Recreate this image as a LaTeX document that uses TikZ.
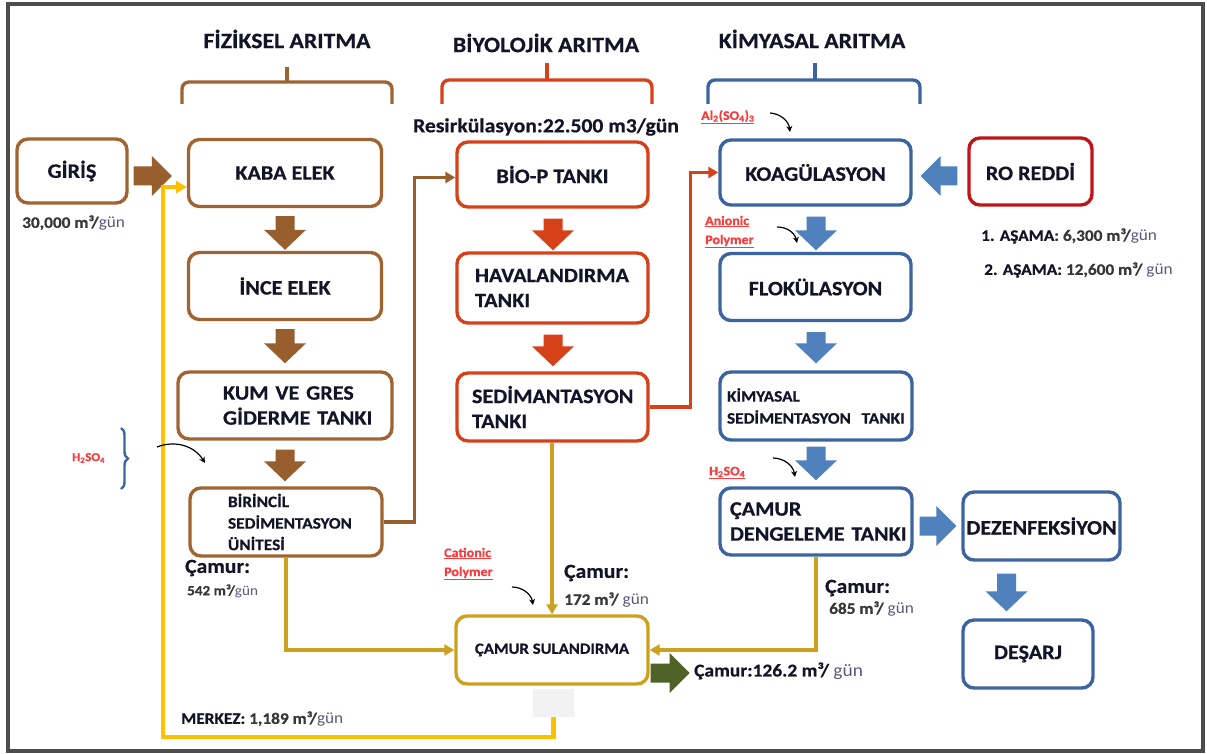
\documentclass[tikz,border=0pt]{standalone}
\usepackage{fontspec}
\setmainfont{Carlito}[FakeStretch=1.08, BoldFeatures={FakeBold=0.6}]
\usetikzlibrary{arrows.meta,calc,decorations.pathreplacing}
\definecolor{txt}{RGB}{20,20,40}
\definecolor{dgray}{RGB}{55,55,55}
\definecolor{gunc}{RGB}{95,85,125}
\definecolor{brownA}{RGB}{150,95,45}
\definecolor{brownB}{RGB}{160,100,50}
\definecolor{redA}{RGB}{215,65,25}
\definecolor{blueA}{RGB}{79,129,189}
\definecolor{blueB}{RGB}{60,100,160}
\definecolor{roR}{RGB}{192,20,25}
\definecolor{goldA}{RGB}{205,160,30}
\definecolor{yellowA}{RGB}{255,192,0}
\definecolor{greenA}{RGB}{79,98,40}
\definecolor{lblred}{RGB}{250,60,60}
\newcommand\fs[2]{\fontsize{#1}{#2}\selectfont}
\newcommand\gn{{\mdseries\color{gunc}gün}}
\newcommand\BDown[3]{\fill[#3] let \p1=(#1),\p2=(#2) in (\x1-9.5pt,\y1) -- (\x1+9.5pt,\y1) -- (\x1+9.5pt,\y2+20pt) -- (\x1+21pt,\y2+20pt) -- (\x1,\y2) -- (\x1-21pt,\y2+20pt) -- (\x1-9.5pt,\y2+20pt) -- cycle;}
\newcommand\BRight[3]{\fill[#3] let \p1=(#1),\p2=(#2) in (\x1,\y1+9.5pt) -- (\x2-20pt,\y1+9.5pt) -- (\x2-20pt,\y1+20pt) -- (\x2,\y1) -- (\x2-20pt,\y1-20pt) -- (\x2-20pt,\y1-9.5pt) -- (\x1,\y1-9.5pt) -- cycle;}
\newcommand\BLeft[3]{\fill[#3] let \p1=(#1),\p2=(#2) in (\x1,\y1+9.5pt) -- (\x2+20pt,\y1+9.5pt) -- (\x2+20pt,\y1+20pt) -- (\x2,\y1) -- (\x2+20pt,\y1-20pt) -- (\x2+20pt,\y1-9.5pt) -- (\x1,\y1-9.5pt) -- cycle;}
\begin{document}
\begin{tikzpicture}[x=1pt,y=-1pt,
  every node/.style={text=txt},
  box/.style={draw, rounded corners=11pt, line width=3.4pt, fill=white, align=center, inner sep=0pt, font=\bfseries\fs{20.5}{25}},
  lbox/.style n args={2}{box, align=left, text width=#1, inner xsep=#2},
  conn/.style={line width=3.2pt, -{Triangle[length=10pt,width=11pt]}},
  curv/.style={line width=1.2pt, black, -{Stealth[length=6pt,width=6pt]}},
  head/.style={font=\bfseries\fs{22}{26}},
  lab/.style={font=\bfseries\fs{16}{20}, text=dgray, anchor=west, inner sep=0pt},
  redlab/.style={font=\bfseries\fs{13}{19}, text=lblred, anchor=west, inner sep=0pt, align=left},
  brc/.style={line width=3.4pt, rounded corners=7pt}
]
\useasboundingbox (0,0) rectangle (1207,754);
\fill[white] (0,0) rectangle (1207,754);
\draw[line width=3.5pt, black!70] (8,4) rectangle (1203,751);

% headings and braces
\node[head] (hfiz) at (287,39) {FİZİKSEL ARITMA};
\node[head] (hbio) at (546,43) {BİYOLOJİK ARITMA};
\node[head] (hkim) at (812,39) {KİMYASAL ARITMA};
\draw[brc, brownB] (182,104) -- (182,82) -- (392,82) -- (392,104);
\draw[line width=3.4pt, brownB] (287,82) -- (287,67);
\draw[brc, redA] (442,104) -- (442,80) -- (652,80) -- (652,104);
\draw[line width=3.4pt, redA] (547,80) -- (547,63);
\draw[brc, blueB] (708,104) -- (708,80) -- (920,80) -- (920,104);
\draw[line width=3.4pt, blueB] (815,80) -- (815,63);

% physical column
\node[box, draw=brownB, minimum width=110, minimum height=64] (giris) at (72,171) {GİRİŞ};
\node[box, draw=brownB, minimum width=193, minimum height=67] (kaba) at (285,173) {KABA ELEK};
\node[box, draw=brownB, minimum width=193, minimum height=67] (ince) at (285,286) {İNCE ELEK};
\node[lbox={124pt}{45pt}, draw=brownB, minimum height=67] (kum) at (285,405.5) {\mbox{KUM VE GRES}\\\mbox{GİDERME TANKI}};
\node[lbox={116pt}{38pt}, draw=brownB, minimum height=68, font=\bfseries\fs{16}{21.5}] (birincil) at (286,522) {BİRİNCİL\\SEDİMENTASYON\\ÜNİTESİ};

% biological column
\node[box, draw=redA, minimum width=191, minimum height=65] (biop) at (552.5,174.5) {BİO-P TANKI};
\node[lbox={155pt}{18pt}, draw=redA, minimum height=70] (hava) at (552.5,288) {HAVALANDIRMA\\TANKI};
\node[lbox={161pt}{15pt}, draw=redA, minimum height=68] (sed) at (552.5,407) {SEDİMANTASYON\\TANKI};
\node[box, draw=goldA, minimum width=192, minimum height=68, font=\bfseries\fs{15.5}{19}] (camur) at (552,650) {ÇAMUR SULANDIRMA};
\node[fill=black!5, minimum width=41, minimum height=28, inner sep=0pt] (gbox) at (553.5,703) {};

% chemical column
\node[box, draw=blueB, minimum width=191, minimum height=65] (koag) at (815.5,172.5) {KOAGÜLASYON};
\node[box, draw=roR, minimum width=123, minimum height=67] (ro) at (1030.5,171.5) {RO REDDİ};
\node[box, draw=blueB, minimum width=191, minimum height=67] (flok) at (815.5,287) {FLOKÜLASYON};
\node[lbox={178pt}{7pt}, draw=blueB, minimum height=68, font=\bfseries\fs{16}{22}] (kimsed) at (816,406) {KİMYASAL\\\mbox{SEDİMENTASYON\ \ TANKI}};
\node[lbox={172pt}{10pt}, draw=blueB, minimum height=67] (deng) at (816,521.5) {ÇAMUR\\\mbox{DENGELEME TANKI}};
\node[box, draw=blueB, minimum width=157, minimum height=68] (dez) at (1041.5,526) {DEZENFEKSİYON};
\node[box, draw=blueB, minimum width=130, minimum height=68] (des) at (1028,654) {DEŞARJ};

% block arrows
\BRight{$(giris.east)+(5,5)$}{$(kaba.west)+(-15,0)$}{brownA}
\BDown{$(kaba.south)+(0,8)$}{$(ince.north)+(0,-1)$}{brownA}
\BDown{$(ince.south)+(0,8)$}{$(kum.north)+(0,-7)$}{brownA}
\BDown{$(kum.south)+(0,9)$}{$(birincil.north)+(0,-5)$}{brownA}
\BDown{$(biop.south)+(0.5,10)$}{$(hava.north)+(0,-1)$}{redA}
\BDown{$(hava.south)+(0.5,10)$}{$(sed.north)+(0,-5)$}{redA}
\BDown{$(koag.south)+(0.5,10)$}{$(flok.north)+(0,-1.5)$}{blueA}
\BDown{$(flok.south)+(0.5,10)$}{$(kimsed.north)+(0,-7)$}{blueA}
\BDown{$(kimsed.south)+(0,5)$}{$(deng.north)+(0,-6)$}{blueA}
\BDown{$(dez.south)+(-35,12)$}{$(des.north)+(0,-7)$}{blueA}
\BRight{$(deng.east)+(6,4.5)$}{$(dez.west)+(-5,0)$}{blueA}
\BLeft{$(ro.west)+(-10,4.5)$}{$(koag.east)+(8,0)$}{blueA}
\BRight{$(camur.east)+(1,23)$}{$(camur.east)+(40,0)$}{greenA}

% line connectors
\draw[conn, brownA] (birincil.east) -- ++(31,0) |- ($(biop.west)+(0,3)$);
\draw[conn, redA] (sed.east) -- ++(41,0) |- (koag.west);
\draw[conn, goldA] (birincil.south) |- (camur.west);
\draw[conn, goldA] (camur.north |- sed.south) -- (camur.north);
\draw[conn, goldA] (deng.south) |- (camur.east);
\coordinate (ycorner) at (163,737);
\draw[line width=4.2pt, yellowA, -{Triangle[length=11pt,width=12pt]}] (gbox.south) |- (ycorner) |- ($(kaba.west)+(0,14)$);

% labels
\node[font=\bfseries\fs{20}{24}, inner sep=0pt] (resirk) at (546,127) {Resirkülasyon:22.500 m3/gün};
\node[lab] (giq) at (22,223) {30,000 m³/\gn};
\node[lab, font=\bfseries\fs{20}{24}, text=txt] (c1a) at (185,568) {Çamur:};
\node[lab, font=\bfseries\fs{14}{18}] (c1b) at (187,591) {542 m³/\gn};
\node[lab, font=\bfseries\fs{20}{24}, text=txt] (c2a) at (564,573) {Çamur:};
\node[lab] (c2b) at (564,600) {172 m³/ \gn};
\node[lab, font=\bfseries\fs{20}{24}, text=txt] (c3a) at (825,588) {Çamur:};
\node[lab] (c3b) at (829,609) {685 m³/ \gn};
\node[lab, font=\bfseries\fs{18}{22}, text=txt] (c4) at (694,671) {Çamur:126.2 m³/ \gn};
\node[lab, text=txt] (merkez) at (181,719) {MERKEZ: {\color{dgray}1,189 m³/}\gn};
\node[lab] (as1) at (981,236) {{\color{txt}1. AŞAMA}: 6,300 m³/\gn};
\node[lab] (as2) at (984,270) {{\color{txt}2. AŞAMA:} 12,600 m³/ \gn};

% chemical dosing labels
\node[redlab, font=\bfseries\fs{12}{16}] (h2l) at (72,458) {H\textsubscript{2}SO\textsubscript{4}};
\draw[blueB, line width=2.4pt, decorate, decoration={brace, amplitude=7pt}] (121,428) -- (121,489);
\coordinate (h2ls) at (157,447);
\coordinate (h2le) at (205,463);
\draw[curv] (h2ls) to[bend left=40] (h2le);

\node[redlab] (alum) at (701,117) {\underline{Al\textsubscript{2}(SO\textsubscript{4})\textsubscript{3}}};
\coordinate (als) at (770,113);
\coordinate (ale) at (790,132);
\draw[curv] (als) to[bend left=40] (ale);

\node[redlab] (anion) at (705,232) {\underline{Anionic}\\\underline{Polymer}};
\coordinate (ans) at (777,227);
\coordinate (ane) at (797,243);
\draw[curv] (ans) to[bend left=40] (ane);

\node[redlab] (h2r) at (709,473) {\underline{H\textsubscript{2}SO\textsubscript{4}}};
\coordinate (hrs) at (773,458);
\coordinate (hre) at (795,477);
\draw[curv] (hrs) to[bend left=40] (hre);

\node[redlab] (cation) at (444,564) {\underline{Cationic}\\\underline{Polymer}};
\coordinate (cas) at (512,587);
\coordinate (cae) at (533,605);
\draw[curv] (cas) to[bend left=40] (cae);
\end{tikzpicture}
\end{document}
